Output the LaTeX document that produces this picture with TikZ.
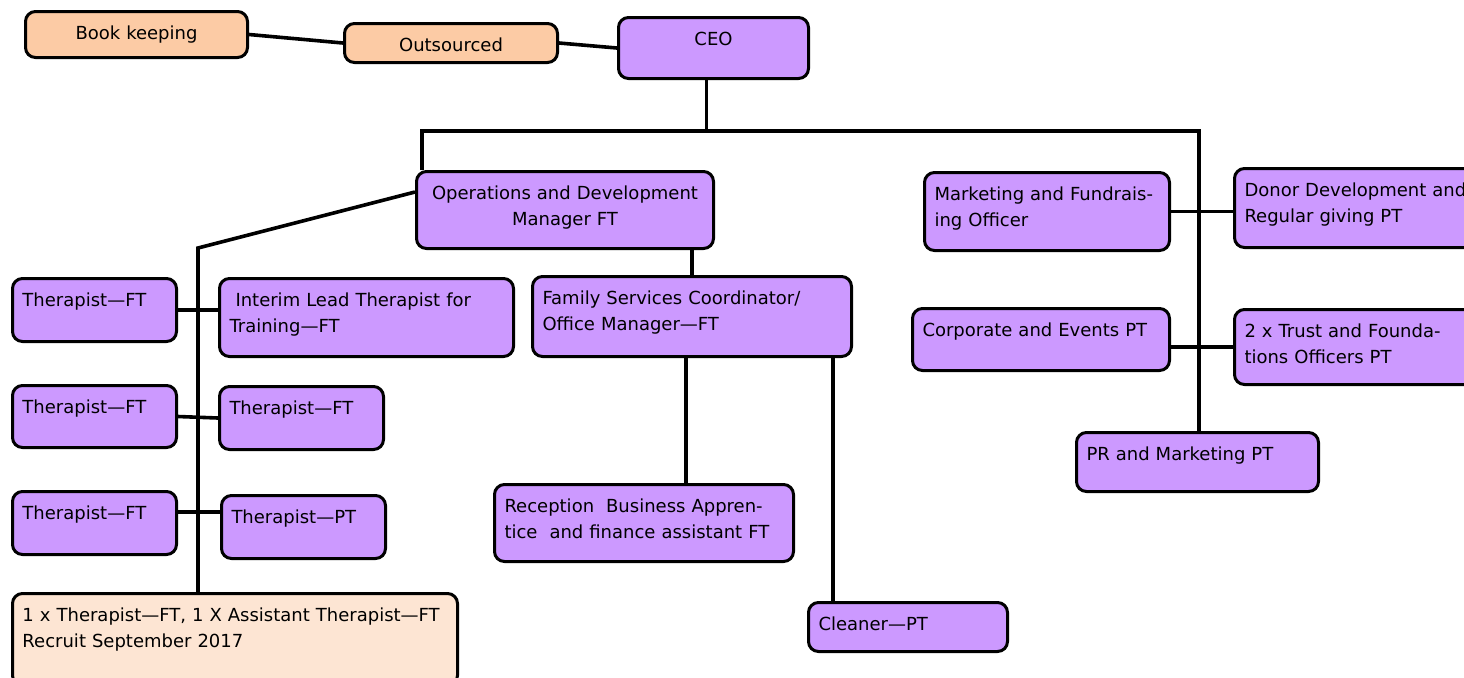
\documentclass[tikz,border=0pt]{standalone}
\usepackage{fontspec}
\setmainfont{DejaVu Sans}
\usepackage{tikz}
\definecolor{lilac}{HTML}{CC99FF}
\definecolor{peach}{HTML}{FCCBA5}
\definecolor{palepeach}{HTML}{FDE5D3}
\tikzset{
  orgbox/.style 2 args={rectangle, rounded corners=5pt, draw=black, line width=1.5pt,
                  fill=lilac, anchor=north west, align=left,
                  font=\fontsize{9pt}{13pt}\selectfont,
                  inner xsep=5pt, inner ysep=4pt, text height=10pt,
                  text width=#1*0.5pt-10pt, text depth=#2*0.5pt-18pt},
  line/.style={draw, line width=1.8pt}
}

\begin{document}
\begin{tikzpicture}[x=0.5pt,y=-0.5pt]
\useasboundingbox (0,0) rectangle (1464,677);
\node[orgbox={222}{46}, fill=peach, align=center] (book) at (24,10) {Book keeping};
\node[orgbox={213}{39}, fill=peach, align=center] (outs) at (343,22) {Outsourced};
\node[orgbox={190}{61}, align=center] (ceo) at (617,16) {CEO};
\node[orgbox={297}{77}, align=center] (ops) at (415,170) {Operations and Development\\Manager FT};
\node[orgbox={245}{78}] (mkt) at (923,171) {Marketing and Fundrais-\\ing Officer};
\node[orgbox={260}{79}] (donor) at (1233,167) {Donor Development and\\Regular giving PT};
\node[orgbox={257}{62}] (corp) at (911,307) {Corporate and Events PT};
\node[orgbox={260}{75}] (trust) at (1233,308) {2 x Trust and Founda-\\tions Officers PT};
\node[orgbox={242}{59}] (pr) at (1075,431) {PR and Marketing PT};
\node[orgbox={164}{63}] (thA) at (11,277) {Therapist—FT};
\node[orgbox={294}{78}] (lead) at (218,277) {\hspace*{3pt}Interim Lead Therapist for\\Training—FT};
\node[orgbox={164}{62}] (thB) at (11,384) {Therapist—FT};
\node[orgbox={164}{63}] (thC) at (218,385) {Therapist—FT};
\node[orgbox={164}{63}] (thD) at (11,490) {Therapist—FT};
\node[orgbox={164}{63}] (thE) at (220,494) {Therapist—PT};
\node[orgbox={445}{92}, fill=palepeach] (recruit) at (11,592) {1 x Therapist—FT, 1 X Assistant Therapist—FT\\Recruit September 2017};
\node[orgbox={319}{80}] (fam) at (531,275) {Family Services Coordinator/\\Office Manager—FT};
\node[orgbox={299}{77}] (recep) at (493,483) {Reception\ \ Business Appren-\\tice\ \ and finance assistant FT};
\node[orgbox={199}{49}] (clean) at (807,601) {Cleaner—PT};
% the long bar under the CEO and the trunk on the left
\coordinate (barL) at (422,131);
\coordinate (barR) at (1199,131);
\coordinate (trunk) at (198,248);
\draw[line] (book.east) -- (outs.west);
\draw[line] (outs.east) -- (ceo.west);
\draw[line] ([xshift=-3.5pt]ceo.south) -- ([xshift=-3.5pt]ceo.south |- barL);
\draw[line] (barL |- ops.north) -- (barL) -- (barR) -- (barR |- pr.north);
\draw[line] ([yshift=9pt]ops.west) -- (trunk) -- (trunk |- recruit.north);
\draw[line] (fam.north) -- (fam.north |- ops.south);
\draw[line] (thA.east) -- (thA.east -| lead.west);
\draw[line] (thB.east) -- (thC.west);
\draw[line] ([yshift=5.5pt]thD.east) -- ([yshift=5.5pt]thD.east -| thE.west);
\draw[line] ([xshift=-3pt]fam.south) -- ([xshift=-3pt]fam.south |- recep.north);
\draw[line] ([xshift=70.5pt]fam.south) -- ([xshift=70.5pt]fam.south |- clean.north);
\draw[line] (mkt.east) -- (mkt.east -| donor.west);
\draw[line] (trust.west -| corp.east) -- (trust.west);
\end{tikzpicture}
\end{document}
